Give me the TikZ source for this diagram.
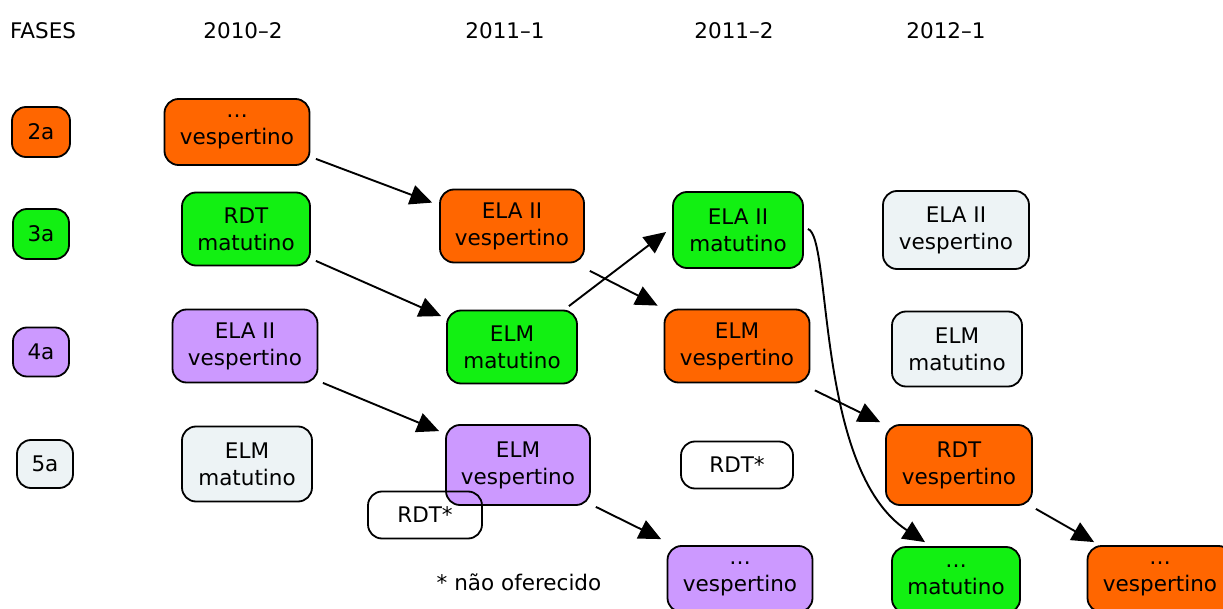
\documentclass[tikz,border=0pt]{standalone}
\usepackage{fontspec}
\setmainfont{DejaVu Sans}
\usetikzlibrary{arrows.meta}
\definecolor{cor}{RGB}{255,102,0}
\definecolor{cgr}{RGB}{18,240,18}
\definecolor{cpu}{RGB}{204,153,255}
\definecolor{cgy}{RGB}{237,243,245}
\tikzset{
  txt/.style={font=\fontsize{21.5}{27}\selectfont, align=center},
  box/.style={txt, draw=black, line width=1.8pt, rounded corners=14pt, inner sep=0pt},
  bo/.style={box, fill=cor},
  bg/.style={box, fill=cgr},
  bp/.style={box, fill=cpu},
  by/.style={box, fill=cgy},
  bw/.style={box},
  sz/.style 2 args={minimum width=#1pt, minimum height=#2pt},
  arr/.style={line width=1.9pt, -{Triangle[length=22pt,width=20pt]}},
}
\begin{document}
\begin{tikzpicture}[x=1pt,y=-1pt]
\useasboundingbox (0,0) rectangle (1223,609);
\clip (0,0) rectangle (1223,609);
% headers
\node[txt] (hf) at (43,31) {FASES};
\node[txt] (h1) at (243,31) {2010--2};
\node[txt] (h2) at (505,31) {2011--1};
\node[txt] (h3) at (734,31) {2011--2};
\node[txt] (h4) at (946,31) {2012--1};
% phases
\node[bo, sz={58}{50}] (p2) at (41,132) {2a};
\node[bg, sz={56}{50}] (p3) at (41,234) {3a};
\node[bp, sz={56}{49}] (p4) at (41,352) {4a};
\node[by, sz={56}{48}] (p5) at (45,464) {5a};
% 2010-2
\node[bo, sz={145}{66}] (A1) at (237,132) {…\\vespertino};
\node[bg, sz={128}{73}] (A2) at (246,229) {RDT\\matutino};
\node[bp, sz={145}{73}] (A3) at (245,346) {ELA II\\vespertino};
\node[by, sz={130}{75}] (A4) at (247,464) {ELM\\matutino};
% 2011-1
\node[bo, sz={144}{73}] (B1) at (512,226) {ELA II\\vespertino};
\node[bg, sz={130}{73}] (B2) at (512,347) {ELM\\matutino};
\node[bp, sz={144}{80}] (B3) at (518,465) {ELM\\vespertino};
\node[bw, sz={114}{47}] (B4) at (425,515) {RDT*};
% 2011-2
\node[bg, sz={130}{76}] (C1) at (738,230) {ELA II\\matutino};
\node[bo, sz={145}{73}] (C2) at (737,346) {ELM\\vespertino};
\node[bw, sz={112}{47}] (C3) at (737,465) {RDT*};
\node[bp, sz={145}{66}] (C4) at (740,579) {…\\vespertino};
% 2012-1
\node[by, sz={146}{78}] (D1) at (956,230) {ELA II\\vespertino};
\node[by, sz={130}{75}] (D2) at (957,349) {ELM\\matutino};
\node[bo, sz={146}{80}] (D3) at (959,465) {RDT\\vespertino};
\node[bg, sz={128}{66}] (D4) at (956,580) {…\\matutino};
\node[bo, sz={145}{66}] (E) at (1160,579) {…\\vespertino};
% note
\node[txt] (nt) at (519,582) {* não oferecido};
% arrows
\draw[arr] ([shift={(5.5,-7)}]A1.south east) -- ([shift={(-7,14)}]B1.north west);
\draw[arr] ([shift={(5,-5.5)}]A2.south east) -- ([shift={(-5,6.5)}]B2.north west);
\draw[arr] ([shift={(4.5,-0.5)}]A3.south east) -- ([shift={(-6,7)}]B3.north west);
\draw[arr] ([shift={(-9,-3.5)}]B2.north east) -- ([shift={(-6,2)}]C1.west);
\draw[arr] ([shift={(5,7.5)}]B1.south east) -- ([shift={(-6,-3)}]C2.north west);
\draw[arr] ([shift={(5,1)}]B3.south east) -- ([shift={(-5.5,-6)}]C4.north west);
\draw[arr] ([shift={(4.5,7)}]C2.south east) -- ([shift={(-5,-2)}]D3.north west);
\draw[arr] ([shift={(4,-1)}]C1.east) .. controls (832,236) and (815,470) .. ([shift={(-31,-4)}]D4.north);
\draw[arr] ([shift={(3,3)}]D3.south east) -- ([shift={(7.5,-3)}]E.north west);
\end{tikzpicture}
\end{document}
